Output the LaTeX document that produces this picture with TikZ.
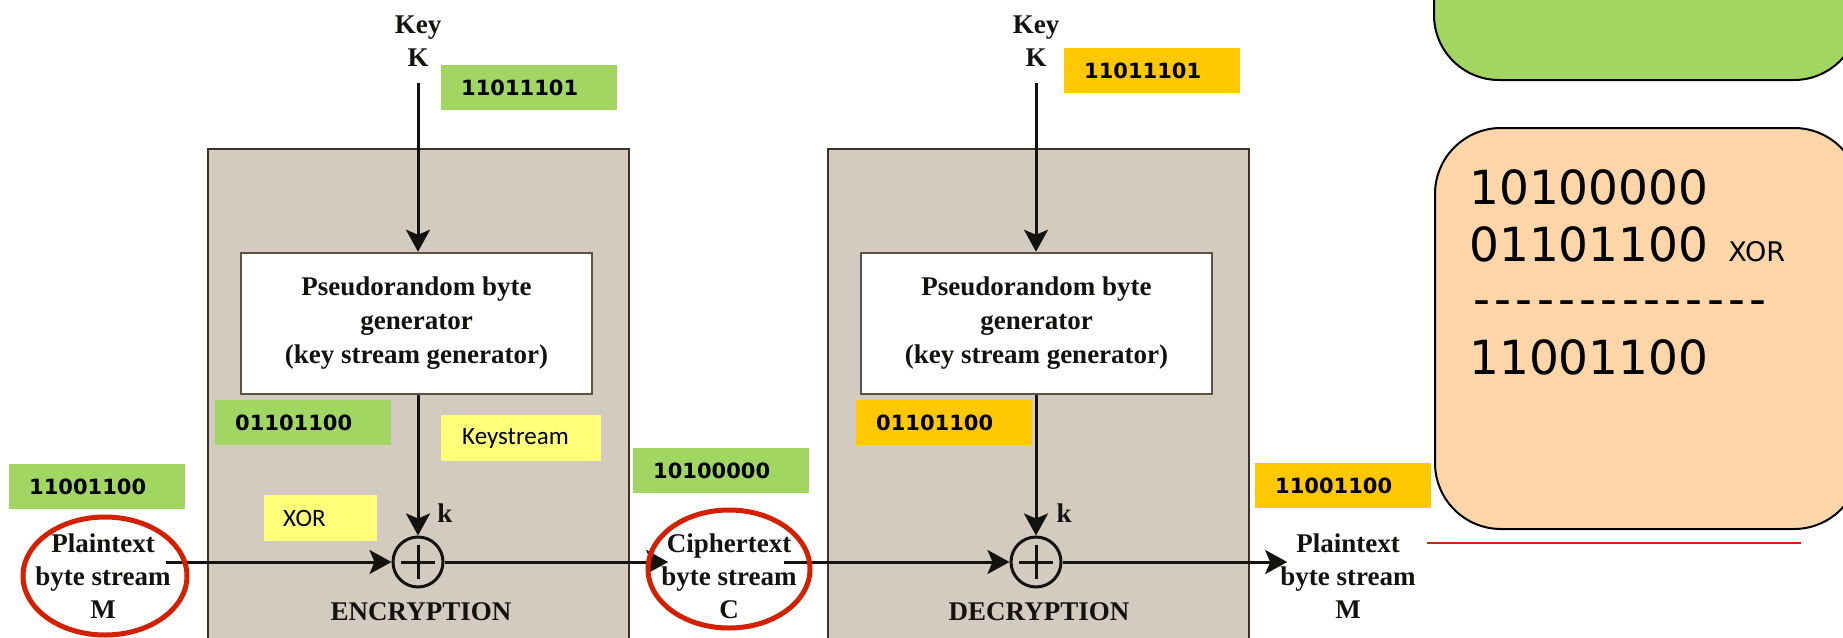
\documentclass[tikz,border=0pt]{standalone}
\usepackage{fontspec}
\setmainfont{Liberation Serif}
\newfontfamily\dvs{DejaVu Sans}
\newfontfamily\cbr{Carlito}
\usetikzlibrary{arrows.meta,shapes.geometric}
\definecolor{tagG}{RGB}{161,214,99}
\definecolor{tagO}{RGB}{255,200,0}
\definecolor{tagY}{RGB}{255,255,122}
\definecolor{peach}{RGB}{252,213,168}
\definecolor{grayfill}{RGB}{211,203,192}
\definecolor{boxline}{RGB}{60,50,40}
\definecolor{genline}{RGB}{95,80,65}
\definecolor{ringred}{RGB}{210,32,0}
\definecolor{ink}{RGB}{20,18,15}
\begin{document}
\begin{tikzpicture}[x=1pt,y=-1pt,
  serif/.style={font=\fontsize{27}{33}\selectfont\bfseries, align=center, inner sep=0pt, text=ink},
  gbox/.style={draw=boxline, line width=2pt, fill=grayfill, anchor=north west, minimum width=421pt, minimum height=520pt, inner sep=0pt},
  gen/.style={draw=genline, line width=2.5pt, fill=white, minimum width=351pt, minimum height=141pt, inner sep=0pt, font=\fontsize{27}{34}\selectfont\bfseries, align=center, text=ink},
  tag/.style={anchor=north west, minimum height=45pt, inner ysep=0pt, inner xsep=20pt, text width=136pt, align=left, font=\dvs\fontsize{21}{24}\selectfont\bfseries},
  note/.style={anchor=north west, fill=tagY, minimum height=46pt, inner ysep=0pt, align=left, font=\cbr\fontsize{25}{28}\selectfont},
  xorc/.style={circle, draw=ink, line width=3pt, minimum size=50pt, inner sep=0pt},
  arr/.style={draw=ink, line width=3pt, -{Stealth[length=22pt,width=24pt,inset=5pt]}},
  ring/.style={draw=ringred, line width=5pt, ellipse, inner sep=0pt},
  big/.style={font=\dvs\fontsize{47}{57}\selectfont, inner sep=0pt, anchor=base west},
]
\useasboundingbox (0,0) rectangle (1843,637);
\clip (0,0) rectangle (1843,637);

% enclosing boxes
\node[gbox] (enc) at (207,148) {};
\node[gbox] (dec) at (827,148) {};
\node[serif] (enclbl) at (421,612) {ENCRYPTION};
\node[serif] (declbl) at (1039,612) {DECRYPTION};

% generators
\node[gen] (gen1) at (416.5,323.5) {Pseudorandom byte\\generator\\(key stream generator)};
\node[gen] (gen2) at (1036.5,323.5) {Pseudorandom byte\\generator\\(key stream generator)};

% keys
\node[serif] (key1) at (418,41) {Key\\K};
\node[serif] (key2) at (1036,41) {Key\\K};

% xor
\node[xorc] (xor1) at (418,562) {};
\node[xorc] (xor2) at (1036,562) {};
\draw[ink, line width=3pt] (xor1.center) +(-17,0) -- +(17,0) (xor1.center) +(0,-17) -- +(0,17);
\draw[ink, line width=3pt] (xor2.center) +(-17,0) -- +(17,0) (xor2.center) +(0,-17) -- +(0,17);
\node[serif] (k1) at (445,513) {k};
\node[serif] (k2) at (1064,513) {k};

% text stream nodes
\node[serif] (pt1) at (103,576) {Plaintext\\byte stream\\M};
\node[serif] (ct) at (729,576) {Ciphertext\\byte stream\\C};
\node[serif] (pt2) at (1348,576) {Plaintext\\byte stream\\M};

% arrows
\draw[arr, shorten <=16pt] (key1.south) -- (key1.south |- gen1.north);
\draw[arr, shorten <=16pt] (key2.south) -- (key2.south |- gen2.north);
\draw[arr] (gen1.south -| xor1) -- (xor1.north);
\draw[arr] (gen2.south -| xor2) -- (xor2.north);
\draw[arr, shorten <=-5pt] (pt1.east |- xor1) -- (xor1.west);
\draw[arr, shorten >=-7pt] (xor1.east) -- (ct.west |- xor1);
\draw[arr, shorten <=-13pt] (ct.east |- xor2) -- (xor2.west);
\draw[arr, shorten >=-7pt] (xor2.east) -- (pt2.west |- xor2);

% red rings
\node[ring, minimum width=164pt, minimum height=118pt] (ring1) at (105,576) {};
\node[ring, minimum width=162pt, minimum height=118pt] (ring2) at (729,569) {};

% value tags
\node[tag, fill=tagG] (t1) at (441,65) {11011101};
\node[tag, fill=tagO] (t2) at (1064,48) {11011101};
\node[tag, fill=tagG] (t3) at (215,400) {01101100};
\node[tag, fill=tagO] (t4) at (856,400) {01101100};
\node[tag, fill=tagG] (t5) at (9,464) {11001100};
\node[tag, fill=tagG] (t6) at (633,448) {10100000};
\node[tag, fill=tagO] (t7) at (1255,463) {11001100};
\node[note, inner xsep=21pt, text width=118pt] (ks) at (441,415) {Keystream};
\node[note, inner xsep=19pt, text width=75pt] (xr) at (264,495) {XOR};

% right side panels
\node[draw=black, line width=2pt, fill=tagG, rounded corners=65pt, anchor=north west, minimum width=425pt, minimum height=180pt, inner sep=0pt] (gpanel) at (1433,-101) {};
\node[draw=black, line width=2pt, fill=peach, rounded corners=66pt, anchor=north west, minimum width=425pt, minimum height=401pt, inner sep=0pt] (ppanel) at (1434,127) {};
\node[big] (l1) at (1469,204) {10100000};
\node[big] (l2) at (1469,261) {01101100\hspace{5pt} {\fontsize{27}{30}\selectfont XOR}};
\def\dk{-\kern4.3pt}
\node[big] (l3) at (1473,315) {\dk\dk\dk\dk\dk\dk\dk\dk\dk\dk\dk\dk\dk-};
\node[big] (l4) at (1469,374) {11001100};

\draw[ringred, line width=1.3pt] (1427,543) -- (1801,543);
\end{tikzpicture}
\end{document}
